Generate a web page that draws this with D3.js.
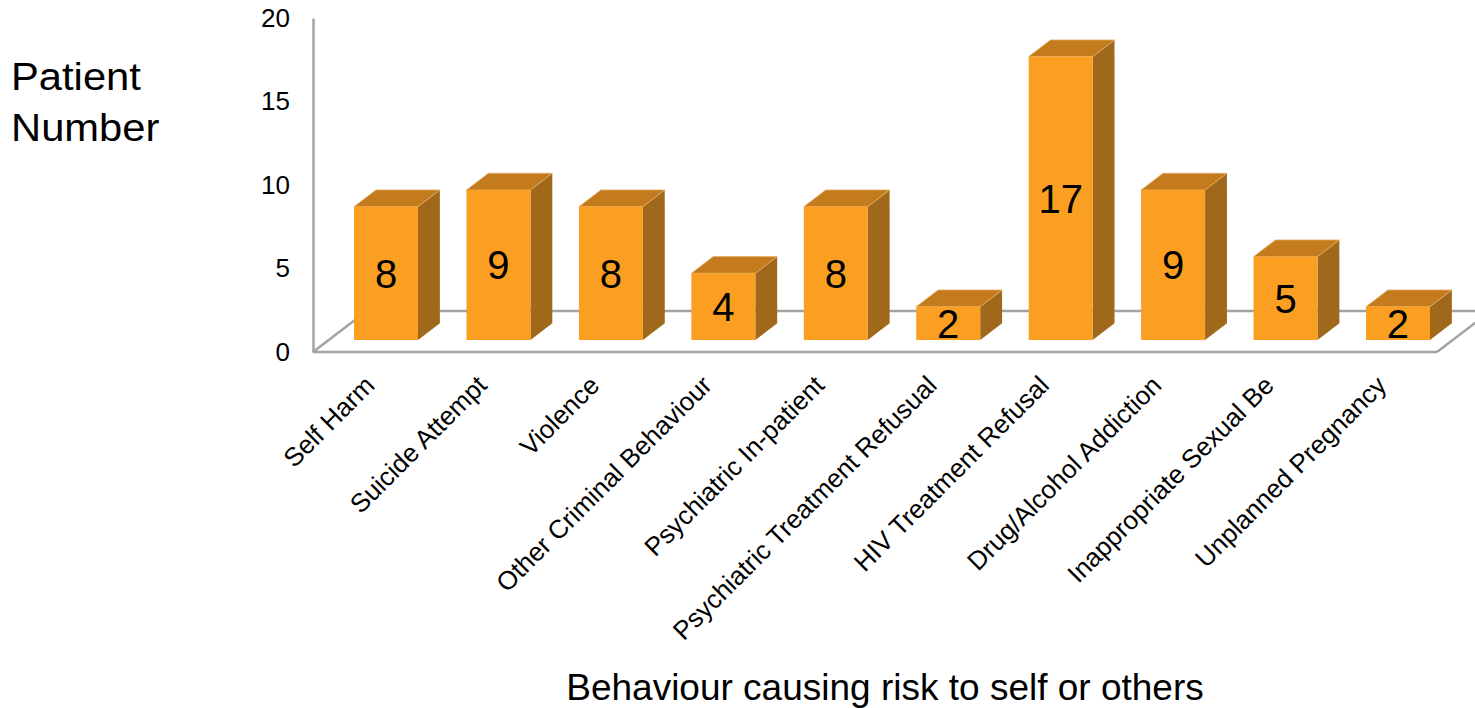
<!DOCTYPE html>
<html><head><meta charset="utf-8">
<script src="https://cdn.jsdelivr.net/npm/d3@7"></script>
<style>
html,body{margin:0;padding:0;background:#fff;}
svg{display:block;font-family:"Liberation Sans",Arial,sans-serif;}
</style></head>
<body><svg id="c" width="1475" height="708"></svg>
<script>
const categories = ["Self Harm","Suicide Attempt","Violence","Other Criminal Behaviour","Psychiatric In-patient","Psychiatric Treatment Refusual","HIV Treatment Refusal","Drug/Alcohol Addiction","Inappropriate Sexual Be","Unplanned Pregnancy"];
const values = [8,9,8,4,8,2,17,9,5,2];
const yTicks = [0,5,10,15,20];
const yTitle = ["Patient","Number"];
const xTitle = "Behaviour causing risk to self or others";

const svg = d3.select("#c");

// geometry
const floorFrontY = 352, floorDepthDy = 41, slope = 1.31;
const floorLeft = 313, floorRight = 1437;
const barOffDy = 12;
const barDepthDy = 16.7;

const x = d3.scaleBand().domain(categories).range([329.8, 1454.2]).paddingInner(0.431).paddingOuter(0.2155);
const yBar = d3.scaleLinear().domain([0,20]).range([floorFrontY - barOffDy, floorFrontY - barOffDy - 333.4]);
const yAxisScale = d3.scaleLinear().domain([0,20]).range([floorFrontY, 18]);

const gray = "#a3a3a3";
const fdx = floorDepthDy*slope;
const floor = svg.append("g").attr("stroke", gray).attr("stroke-width", 2.5).attr("fill","none");
floor.append("path").attr("d", `M${floorLeft},${floorFrontY}L${floorLeft+fdx},${floorFrontY-floorDepthDy}L${floorRight+fdx},${floorFrontY-floorDepthDy}L${floorRight},${floorFrontY}`);

const ax = svg.append("g").attr("transform", `translate(${floorLeft},0)`)
  .call(d3.axisLeft(yAxisScale).tickValues(yTicks).tickSize(0).tickPadding(23));
ax.select(".domain").attr("stroke", gray).attr("stroke-width", 2.5);
ax.selectAll("text").attr("font-size", 26).attr("fill","#000").attr("font-family","Liberation Sans, Arial, sans-serif");

svg.append("line").attr("x1", floorLeft).attr("x2", floorRight).attr("y1", floorFrontY).attr("y2", floorFrontY)
  .attr("stroke", gray).attr("stroke-width", 2.5);

const bdx = barDepthDy*slope;
const base = yBar(0);
const bars = svg.append("g").selectAll("g").data(categories).join("g");
bars.each(function(c,i){
  const g = d3.select(this);
  const x0 = x(c), bw = x.bandwidth(), top = yBar(values[i]);
  g.append("path").attr("d", `M${x0+bw},${top}L${x0+bw+bdx},${top-barDepthDy}L${x0+bw+bdx},${base-barDepthDy}L${x0+bw},${base}Z`)
    .attr("fill", "#a0681a");
  g.append("path").attr("d", `M${x0},${top}L${x0+bdx},${top-barDepthDy}L${x0+bw+bdx},${top-barDepthDy}L${x0+bw},${top}Z`)
    .attr("fill", "#c47b1d").attr("stroke","#e6b06a").attr("stroke-width",0.8);
  g.append("rect").attr("x", x0).attr("y", top).attr("width", bw).attr("height", base-top)
    .attr("fill", "#fb9f22");
  g.append("text").attr("x", x0+bw/2).attr("y", (top+base)/2).attr("dy","0.36em")
    .attr("text-anchor","middle").attr("font-size", 40).attr("fill","#000").text(values[i]);
});

svg.append("g").selectAll("text").data(categories).join("text")
  .attr("transform", d => `translate(${x(d)+x.bandwidth()/2-10},${387}) rotate(-45)`)
  .attr("text-anchor","end").attr("font-size", 26).attr("fill","#000").text(d=>d);

svg.append("text").attr("transform","translate(11,90) scale(1.07,1)").attr("font-size", 39).text(yTitle[0]);
svg.append("text").attr("transform","translate(11,141) scale(1.07,1)").attr("font-size", 39).text(yTitle[1]);
svg.append("text").attr("x", 885).attr("y", 700).attr("text-anchor","middle").attr("font-size", 37).text(xTitle);
</script>
</body></html>
